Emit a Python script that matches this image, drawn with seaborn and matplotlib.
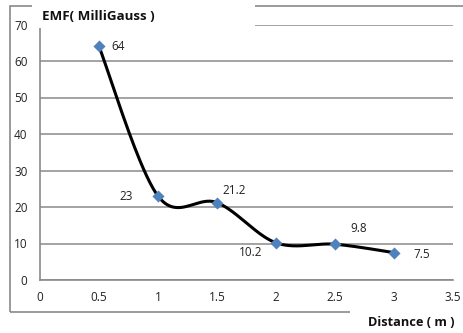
import numpy as np
import matplotlib
matplotlib.use("Agg")
import matplotlib.pyplot as plt
from matplotlib.patches import Rectangle
import seaborn as sns
import pandas as pd

distance = [0.5, 1.0, 1.5, 2.0, 2.5, 3.0]
emf = [64, 23, 21.2, 10.2, 9.8, 7.5]
value_labels = ["64", "23", "21.2", "10.2", "9.8", "7.5"]
label_offsets = [(9, 0), (-28, 0), (4, 9), (-27, -7), (11, 11), (14, -1)]

sns.set_theme(style="white")
plt.rcParams["font.family"] = ["Open Sans", "DejaVu Sans"]

fig = plt.figure(figsize=(4.64, 3.33), dpi=100)
W, H = 464, 333
ax = fig.add_axes([40 / W, 1 - 280 / H, 413 / W, 255.5 / H])

ax.set_xlim(0, 3.5)
ax.set_ylim(0, 70)
ax.set_xticks(np.arange(0, 3.51, 0.5))
ax.set_yticks(np.arange(0, 71, 10))
ax.set_xticklabels(["0", "0.5", "1", "1.5", "2", "2.5", "3", "3.5"])
ax.tick_params(axis="both", labelsize=8.5, colors="#595959", labelcolor="#222222",
               direction="out", length=3, width=1, pad=5)
ax.tick_params(axis="y", pad=6)
for s in ["top", "right"]:
    ax.spines[s].set_visible(False)
for s in ["left", "bottom"]:
    ax.spines[s].set_color("#8a8a8a")
    ax.spines[s].set_linewidth(1.2)
ax.yaxis.grid(True, color="#8a8a8a", linewidth=1.1)
ax.set_axisbelow(True)

df = pd.DataFrame({"distance": distance, "emf": emf})

# Smoothed connecting curve (Catmull-Rom style Bezier in display space)
fig.canvas.draw()
pts = ax.transData.transform(np.column_stack([distance, emf]))
curve = []
n = len(pts)
for i in range(n - 1):
    p0 = pts[i - 1] if i > 0 else pts[i]
    p1, p2 = pts[i], pts[i + 1]
    p3 = pts[i + 2] if i + 2 < n else pts[i + 1]
    c1 = p1 + (p2 - p0) / 6
    c2 = p2 - (p3 - p1) / 6
    t = np.linspace(0, 1, 40)[:, None]
    seg = ((1 - t) ** 3) * p1 + 3 * ((1 - t) ** 2) * t * c1 + 3 * (1 - t) * t ** 2 * c2 + t ** 3 * p2
    curve.append(seg if i == 0 else seg[1:])
curve = ax.transData.inverted().transform(np.vstack(curve))
sns.lineplot(x=curve[:, 0], y=curve[:, 1], sort=False, color="black", linewidth=2.2, ax=ax, zorder=3)

sns.scatterplot(data=df, x="distance", y="emf", marker="D", s=38, color="#4F81BD",
                edgecolor="#4F81BD", linewidth=0, ax=ax, zorder=4)
ax.set_xlabel("")
ax.set_ylabel("")

for x, y, lab, (dx, dy) in zip(distance, emf, value_labels, label_offsets):
    ax.annotate(lab, (x, y), xytext=(dx, dy), textcoords="offset points",
                fontsize=8.5, color="#222222", va="center", ha="left", zorder=5)

# Chart frame, interrupted by the two axis title boxes
frame = Rectangle((10 / W, 1 - 312 / H), 460 / W, 306 / H, transform=fig.transFigure,
                  fill=False, edgecolor="#8a8a8a", linewidth=1.2, zorder=0)
fig.patches.append(frame)

title_box = Rectangle((32 / W, 1 - 28 / H), 223 / W, 28 / H, transform=fig.transFigure,
                      facecolor="white", edgecolor="none", zorder=8)
fig.patches.append(title_box)
xlabel_box = Rectangle((350 / W, 0), 114 / W, 28 / H, transform=fig.transFigure,
                       facecolor="white", edgecolor="none", zorder=8)
fig.patches.append(xlabel_box)

fig.text(42 / W, 1 - 17 / H, "EMF( MilliGauss )", fontsize=9.6, fontweight="bold",
         color="#111111", ha="left", va="center", zorder=10)
fig.text(368 / W, 1 - 322 / H, "Distance ( m )", fontsize=9.2, fontweight="bold",
         color="#111111", ha="left", va="center", zorder=10)

fig.savefig("out.png", dpi=100)
